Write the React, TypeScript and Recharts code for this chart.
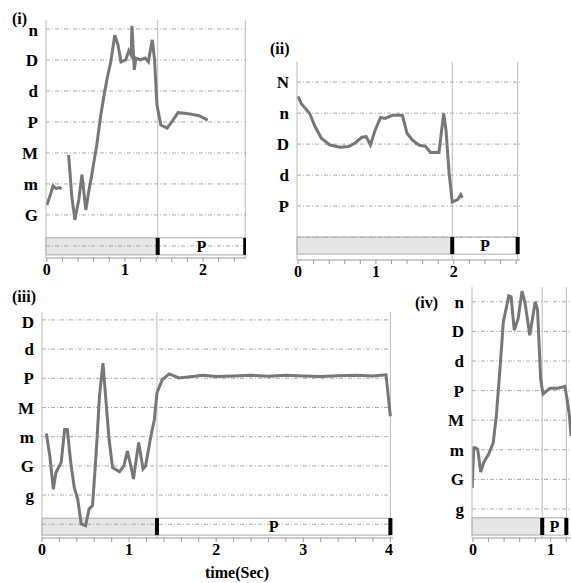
import React from 'react'
import { LineChart, Line, XAxis, YAxis, ReferenceLine, ReferenceArea } from 'recharts'

// panel (i)
const notes1 = ['G', 'm', 'M', 'P', 'd', 'D', 'n']
const time1 = [0, 0.04, 0.08, 0.12, 0.16, 0.19, 0.24, 0.28, 0.32, 0.36, 0.41, 0.45, 0.5, 0.54, 0.58, 0.64, 0.69, 0.74, 0.78, 0.82, 0.87, 0.91, 0.95, 1.01, 1.05, 1.08, 1.09, 1.12, 1.14, 1.2, 1.26, 1.3, 1.35, 1.38, 1.41, 1.46, 1.54, 1.6, 1.68, 1.76, 1.83, 1.95, 2.06]
const pitch1 = [0.32, 0.6, 0.94, 0.85, 0.88, 0.85, null, 1.94, 0.6, -0.16, 0.5, 1.3, 0.16, 0.8, 1.35, 2.26, 3.2, 3.97, 4.5, 4.94, 5.8, 5.5, 4.94, 5.0, 5.3, 5.16, 6.1, 4.68, 5.06, 5.0, 5.06, 4.94, 5.65, 5.0, 3.55, 2.9, 2.8, 3.0, 3.3, 3.28, 3.26, 3.2, 3.06]

// panel (ii)
const notes2 = ['P', 'd', 'D', 'n', 'N']
const time2 = [0, 0.04, 0.15, 0.22, 0.3, 0.41, 0.54, 0.65, 0.73, 0.82, 0.875, 0.93, 0.99, 1.06, 1.12, 1.21, 1.34, 1.4, 1.47, 1.55, 1.64, 1.7, 1.81, 1.87, 1.9, 1.94, 1.98, 2.05, 2.09, 2.11]
const pitch2 = [3.54, 3.31, 2.99, 2.56, 2.19, 1.97, 1.9, 1.92, 2.03, 2.22, 2.24, 1.97, 2.45, 2.86, 2.83, 2.93, 2.93, 2.35, 2.13, 1.97, 1.92, 1.73, 1.73, 2.99, 2.45, 1.07, 0.13, 0.21, 0.37, 0.27]

// panel (iii)
const notes3 = ['g', 'G', 'm', 'M', 'P', 'd', 'D']
const time3 = [0.05, 0.09, 0.13, 0.16, 0.22, 0.26, 0.29, 0.33, 0.37, 0.41, 0.45, 0.5, 0.54, 0.58, 0.62, 0.66, 0.7, 0.73, 0.77, 0.81, 0.89, 0.94, 0.98, 1.02, 1.05, 1.11, 1.16, 1.19, 1.25, 1.29, 1.32, 1.38, 1.46, 1.57, 1.7, 1.85, 2.0, 2.2, 2.4, 2.6, 2.8, 3.0, 3.2, 3.4, 3.6, 3.8, 3.95, 4.0]
const pitch3 = [2.11, 1.34, 0.2, 0.77, 1.11, 2.25, 2.25, 1.11, 0.26, -0.14, -0.99, -1.05, -0.48, -0.36, 1.34, 3.39, 4.52, 3.39, 1.91, 0.94, 0.8, 1.0, 1.51, 1.0, 0.55, 1.8, 0.89, 1.0, 2.02, 2.59, 3.5, 3.95, 4.15, 4.01, 4.05, 4.1, 4.06, 4.08, 4.1, 4.07, 4.1, 4.08, 4.06, 4.09, 4.1, 4.08, 4.12, 2.7]

// panel (iv)
const notes4 = ['g', 'G', 'm', 'M', 'P', 'd', 'D', 'n']
const time4 = [-0.01, 0.0, 0.01, 0.03, 0.06, 0.1, 0.14, 0.2, 0.26, 0.3, 0.35, 0.39, 0.46, 0.49, 0.53, 0.58, 0.63, 0.67, 0.73, 0.8, 0.83, 0.87, 0.9, 0.99, 1.09, 1.18, 1.21, 1.24, 1.26]
const pitch4 = [0.71, 1.45, 2.07, 2.07, 2.02, 1.25, 1.59, 1.85, 2.24, 3.15, 4.85, 6.32, 7.2, 7.17, 6.04, 6.43, 7.36, 6.94, 5.87, 7.0, 6.72, 4.39, 3.88, 4.08, 4.08, 4.14, 3.71, 3.15, 2.47]

const serif = '"Liberation Serif", "DejaVu Serif", serif'

type PanelProps = {
  name: string; notes: string[]; times: number[]; pitch: (number | null)[]
  x: number; y: number; yw: number; w: number; h: number
  xd: [number, number]; yd: [number, number]; xticks: number[]
  split: number; end: number; bar: [number, number]; labelX: number; labelY: number
}

function Panel(p: PanelProps) {
  const data = p.times.map((t, i) => ({ t, v: p.pitch[i] }))
  const levels = p.notes.map((_, i) => i)
  const minor: number[] = []
  for (let k = 0; k <= Math.floor(p.xd[1] / 0.2 + 1e-6); k++) minor.push(Math.round(k * 0.2 * 10) / 10)
  const grid: number[] = []
  for (let k = Math.ceil(p.yd[0]); k < p.notes.length; k++) grid.push(k)
  return (
    <div style={{ position: 'absolute', left: p.x, top: p.y }}>
      <div style={{ position: 'absolute', left: p.labelX, top: p.labelY, fontFamily: serif, fontWeight: 'bold', fontSize: 16 }}>{p.name}</div>
      <LineChart width={p.w + p.yw} height={p.h + 28} data={data} margin={{ top: 0, right: 0, left: 0, bottom: 0 }}>
        <XAxis type="number" dataKey="t" domain={p.xd} ticks={minor} allowDataOverflow
          tickFormatter={v => (Number.isInteger(v) && p.xticks.includes(v) ? String(v) : '')}
          stroke="#999" tickSize={4} height={28}
          tick={{ fill: '#000', fontSize: 16, fontFamily: serif, fontWeight: 'bold' }} />
        <YAxis type="number" domain={p.yd} ticks={levels} allowDataOverflow width={p.yw}
          tickFormatter={v => p.notes[v] ?? ''} stroke="#bbb" tickLine={false} tickMargin={2}
          tick={{ fill: '#000', fontSize: 17, fontFamily: serif, fontWeight: 'bold' }} />
        {grid.map(g => <ReferenceLine key={g} y={g} stroke="#aaa" strokeDasharray="4 2 1 2" />)}
        <ReferenceArea x1={p.xd[0]} x2={p.split} y1={p.bar[0]} y2={p.bar[1]} fill="#e6e6e6" fillOpacity={1} stroke="#aaa" />
        <ReferenceArea x1={p.split} x2={p.end} y1={p.bar[0]} y2={p.bar[1]} fill="#fff" fillOpacity={1} stroke="#aaa"
          label={{ value: 'P', fill: '#000', fontSize: 16, fontFamily: serif, fontWeight: 'bold' }} />
        <ReferenceLine x={p.split} stroke="#bbb" />
        <ReferenceLine x={p.end} stroke="#bbb" />
        <ReferenceLine segment={[{ x: p.split, y: p.bar[0] }, { x: p.split, y: p.bar[1] }]} stroke="#000" strokeWidth={4} />
        <ReferenceLine segment={[{ x: p.end, y: p.bar[0] }, { x: p.end, y: p.bar[1] }]} stroke="#000" strokeWidth={4} />
        <Line dataKey="v" stroke="#777" strokeWidth={3} dot={false} connectNulls={false} isAnimationActive={false} />
      </LineChart>
    </div>
  )
}

export default function App() {
  return (
    <div style={{ position: 'fixed', left: 0, top: 0, width: 571, height: 583, background: '#fff' }}>
      <Panel name="(i)" notes={notes1} times={time1} pitch={pitch1} x={0} y={20} yw={46} w={200} h={238}
        xd={[-0.01, 2.55]} yd={[-1.39, 6.29]} xticks={[0, 1, 2]} split={1.42} end={2.54} bar={[-0.74, -1.29]} labelX={12} labelY={-10} />
      <Panel name="(ii)" notes={notes2} times={time2} pitch={pitch2} x={250} y={62} yw={47} w={223} h={198}
        xd={[-0.013, 2.85]} yd={[-1.74, 4.65]} xticks={[0, 1, 2]} split={1.98} end={2.82} bar={[-1.0, -1.55]} labelX={20} labelY={-22} />
      <Panel name="(iii)" notes={notes3} times={time3} pitch={pitch3} x={0} y={312} yw={42} w={351} h={226}
        xd={[0, 4.03]} yd={[-1.47, 6.27]} xticks={[0, 1, 2, 3, 4]} split={1.32} end={4.0} bar={[-0.79, -1.37]} labelX={12} labelY={-24} />
      <Panel name="(iv)" notes={notes4} times={time4} pitch={pitch4} x={432} y={287} yw={40} w={99} h={251}
        xd={[-0.013, 1.26]} yd={[-0.98, 7.5]} xticks={[0, 1]} split={0.89} end={1.2} bar={[-0.3, -0.88]} labelX={-17} labelY={7} />
      <div style={{ position: 'absolute', left: 205, top: 564, fontFamily: serif, fontWeight: 'bold', fontSize: 16 }}>time(Sec)</div>
    </div>
  )
}
